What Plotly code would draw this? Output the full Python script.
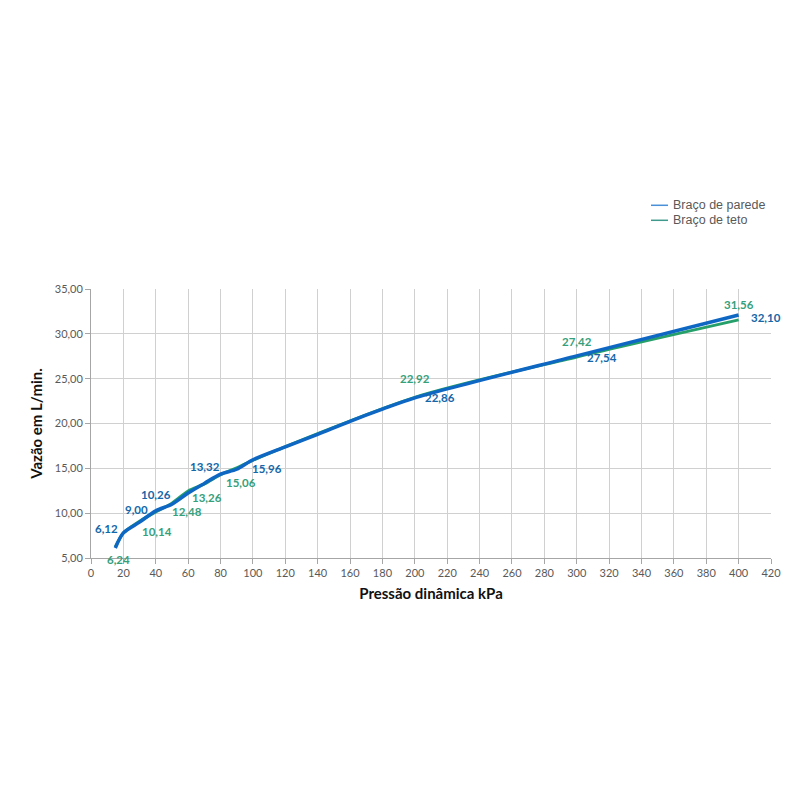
import plotly.graph_objects as go

# Data
pressure_parede = [15, 20, 30, 40, 50, 60, 70, 80, 90, 100, 120, 140, 160, 180, 200, 300, 400]
vazao_parede = [6.12, 7.8, 9.00, 10.26, 11.0, 12.25, 13.32, 14.35, 14.9, 15.96, 17.4, 18.8, 20.25, 21.6, 22.86, 27.54, 32.10]

pressure_teto = [15, 20, 30, 40, 50, 60, 70, 80, 90, 100, 200, 300, 400]
vazao_teto = [6.24, 7.8, 9.1, 10.14, 11.1, 12.48, 13.26, 14.3, 15.06, 15.9, 22.92, 27.42, 31.56]

# labelled points
lab_parede_x = [15, 30, 40, 70, 100, 200, 300, 400]
lab_parede_y = [6.12, 9.00, 10.26, 13.32, 15.96, 22.86, 27.54, 32.10]

lab_teto_x = [15, 40, 60, 70, 90, 200, 300, 400]
lab_teto_y = [6.24, 10.14, 12.48, 13.26, 15.06, 22.92, 27.42, 31.56]

series_names = ["Braço de parede", "Braço de teto"]

x_ticks = list(range(0, 421, 20))
y_ticks = [5, 10, 15, 20, 25, 30, 35]

# label pixel offsets (style, not data)
off_parede = [(-9, 19), (-3, 13), (0, 16), (1, 17), (14, -9), (25, 0), (25, -2), (27, -2)]
off_teto = [(3, -13), (1, -20), (-1, -21), (3, -14), (4, -15), (0, 19), (0, 15), (0, 15)]

BLUE = "#0f67c4"
GREEN = "#25a06a"
BLUE_TXT = "#1467a8"
GREEN_TXT = "#36a07a"


def fmt(v):
    return f"{v:.2f}".replace(".", ",")


fig = go.Figure()

fig.add_trace(go.Scatter(x=pressure_teto, y=vazao_teto, mode="lines", name=series_names[1],
                         line=dict(color=GREEN, width=3, shape="spline", smoothing=0.8),
                         showlegend=False, hoverinfo="skip"))
fig.add_trace(go.Scatter(x=pressure_parede, y=vazao_parede, mode="lines", name=series_names[0],
                         line=dict(color=BLUE, width=3.5, shape="spline", smoothing=0.8),
                         showlegend=False, hoverinfo="skip"))

annotations = []
for xv, yv, (dx, dy) in zip(lab_parede_x, lab_parede_y, off_parede):
    annotations.append(dict(x=xv, y=yv, xref="x", yref="y", text=fmt(yv), showarrow=False,
                            xshift=dx, yshift=dy, borderpad=0,
                            font=dict(family="Lato", size=11.5, color=BLUE_TXT, weight="bold")))
for xv, yv, (dx, dy) in zip(lab_teto_x, lab_teto_y, off_teto):
    annotations.append(dict(x=xv, y=yv, xref="x", yref="y", text=fmt(yv), showarrow=False,
                            xshift=dx, yshift=dy, borderpad=0,
                            font=dict(family="Lato", size=11.5, color=GREEN_TXT, weight="bold")))

# custom legend (paper coords)
legend_colors = ["#4a90d9", "#3f9a8c"]
legend_y = [1.3112, 1.2554]
shapes = []
for name, col, ly in zip(series_names, legend_colors, legend_y):
    shapes.append(dict(type="line", xref="paper", yref="paper", x0=0.8235, x1=0.8485,
                       y0=ly, y1=ly, line=dict(color=col, width=1.5)))
    annotations.append(dict(x=0.853, y=ly, xref="paper", yref="paper", text=name,
                            showarrow=False, xanchor="left", yanchor="middle",
                            font=dict(family="Liberation Sans", size=12.5, color="#595959")))

fig.update_layout(
    width=800, height=800,
    paper_bgcolor="white", plot_bgcolor="white",
    separators=",.",
    showlegend=False,
    margin=dict(l=83, r=37, t=281, b=250),
    font=dict(family="Lato", color="#595959"),
    annotations=annotations,
    shapes=shapes,
    xaxis=dict(range=[0, 420], tickvals=x_ticks, showgrid=True, gridcolor="#d0d0d0",
               gridwidth=1, showline=True, linecolor="#a6a6a6", ticks="outside",
               ticklen=5, tickcolor="#a6a6a6", tickfont=dict(family="Lato", size=11, color="#595959"),
               zeroline=False,
               title=dict(text="Pressão dinâmica kPa", standoff=10,
                          font=dict(family="Lato", size=15, color="#111111", weight="bold"))),
    yaxis=dict(range=[5, 35], tickvals=y_ticks, tickformat=".2f", showgrid=True,
               gridcolor="#d0d0d0", gridwidth=1, showline=True, linecolor="#a6a6a6",
               ticks="outside", ticklen=5, tickcolor="#a6a6a6",
               tickfont=dict(family="Lato", size=11, color="#595959"), zeroline=False,
               title=dict(text="Vazão em L/min.", standoff=8,
                          font=dict(family="Lato", size=15, color="#111111", weight="bold"))),
)

fig.write_html("out.html")
